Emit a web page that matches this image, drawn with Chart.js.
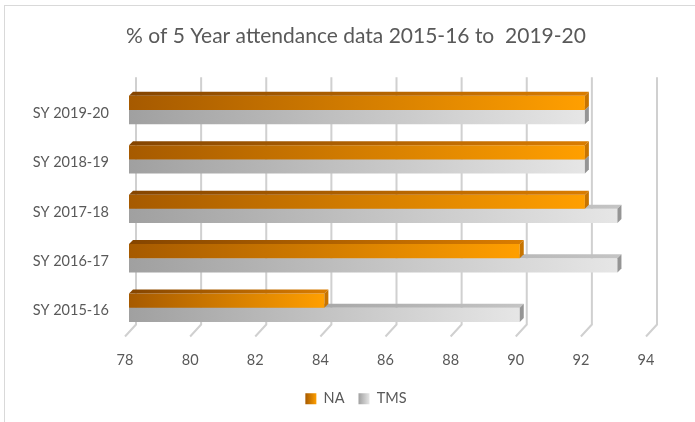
<!DOCTYPE html>
<html>
<head>
<meta charset="utf-8">
<script src="https://cdn.jsdelivr.net/npm/chart.js@4"></script>
<style>
  html,body{margin:0;padding:0;background:#fff;overflow:hidden;}
  #wrap{position:relative;width:695px;height:422px;}
  #frame{position:absolute;left:4px;top:5px;width:720px;height:440px;border:1px solid #d9d9d9;box-sizing:border-box;}
  canvas{position:absolute;left:0;top:0;}
</style>
</head>
<body>
<div id="wrap">
  <div id="frame"></div>
  <canvas id="chart" width="695" height="422"></canvas>
</div>
<script>
// data
const years = ['SY 2015-16','SY 2016-17','SY 2017-18','SY 2018-19','SY 2019-20'];
const naValues  = [84, 90, 92, 92, 92];
const tmsValues = [90, 93, 93, 92, 92];
const axisMin = 78, axisMax = 94, axisStep = 2;

const textColor = '#595959';
const fontFam = 'Lato, "Liberation Sans", sans-serif';
const depth = 4;

// bar fill: horizontal gradient from bar start to bar end
function barFill(dark, light){
  return (ctx) => {
    const chart = ctx.chart;
    if(!chart.chartArea || ctx.raw === undefined) return light;
    const x0 = chart.chartArea.left;
    const x1 = chart.scales.x.getPixelForValue(ctx.raw);
    const g = chart.ctx.createLinearGradient(x0, 0, x1, 0);
    g.addColorStop(0, dark);
    g.addColorStop(1, light);
    return g;
  };
}

const faces = [
  {topDark:'#854500', topLight:'#d97c00', side:'#c77400'},   // NA
  {topDark:'#8c8c8c', topLight:'#c4c4c4', side:'#959595'}    // TMS
];

// back wall grid lines with slanted floor ticks
const wallGrid = {
  id:'wallGrid',
  beforeDatasetsDraw(chart){
    const {ctx, chartArea, scales} = chart;
    ctx.save();
    ctx.strokeStyle = '#d0d0d0';
    ctx.lineWidth = 2;
    for(let v = axisMin; v <= axisMax; v += axisStep){
      const px = scales.x.getPixelForValue(v);
      ctx.beginPath();
      ctx.moveTo(px + 7, chartArea.top - 8);
      ctx.lineTo(px + 7, chartArea.bottom - 8);
      ctx.lineTo(px - 4, chartArea.bottom + 4);
      ctx.stroke();
    }
    ctx.restore();
  }
};

// top and side faces for each bar, drawn right after its dataset
const barFaces = {
  id:'barFaces',
  afterDatasetDraw(chart, args){
    const meta = args.meta;
    const f = faces[meta.index];
    const ctx = chart.ctx;
    ctx.save();
    meta.data.forEach(el => {
      const p = el.getProps(['x','y','base','height'], true);
      const base = Math.max(p.base, chart.chartArea.left);
      const top = p.y - p.height/2, bottom = p.y + p.height/2;
      const g = ctx.createLinearGradient(base, 0, p.x, 0);
      g.addColorStop(0, f.topDark);
      g.addColorStop(1, f.topLight);
      ctx.fillStyle = g;
      ctx.beginPath();
      ctx.moveTo(base, top);
      ctx.lineTo(base + depth, top - depth);
      ctx.lineTo(p.x + depth, top - depth);
      ctx.lineTo(p.x, top);
      ctx.closePath();
      ctx.fill();
      ctx.fillStyle = f.side;
      ctx.beginPath();
      ctx.moveTo(p.x, top);
      ctx.lineTo(p.x + depth, top - depth);
      ctx.lineTo(p.x + depth, bottom - depth);
      ctx.lineTo(p.x, bottom);
      ctx.closePath();
      ctx.fill();
    });
    ctx.restore();
  }
};

// gradient swatches in the legend
const legendSwatch = {
  id:'legendSwatch',
  afterDraw(chart){
    const lg = chart.legend;
    if(!lg || !lg.legendHitBoxes) return;
    const ctx = chart.ctx;
    const cols = [['#a65a00','#ff9f00'],['#a0a0a0','#e6e6e6']];
    lg.legendHitBoxes.forEach((hb, i) => {
      const w = lg.options.labels.boxWidth, h = lg.options.labels.boxHeight;
      const y = hb.top + (hb.height - h)/2;
      const g = ctx.createLinearGradient(hb.left, 0, hb.left + w, 0);
      g.addColorStop(0, cols[i][0]);
      g.addColorStop(1, cols[i][1]);
      ctx.fillStyle = g;
      ctx.fillRect(hb.left, y, w, h);
    });
  }
};

new Chart(document.getElementById('chart'), {
  type:'bar',
  data:{
    labels: years,
    datasets:[
      {label:'NA', data:naValues, backgroundColor:barFill('#a65a00','#ff9f00'), borderWidth:0,
       categoryPercentage:0.574, barPercentage:1},
      {label:'TMS', data:tmsValues, backgroundColor:barFill('#a0a0a0','#e6e6e6'), borderWidth:0,
       categoryPercentage:0.574, barPercentage:1}
    ]
  },
  options:{
    indexAxis:'y',
    responsive:false,
    animation:false,
    // the frame runs past the right edge, so title and legend centre a little right of the canvas middle
    layout:{padding:{left:0, right:-17, top:0, bottom:6}},
    scales:{
      x:{
        min:axisMin, max:axisMax,
        ticks:{stepSize:axisStep, color:textColor, font:{family:fontFam, size:14.5}, padding:19, labelOffset:-4},
        grid:{display:false, drawTicks:false},
        border:{display:false},
        afterFit(s){ s.height = 45; }
      },
      y:{
        reverse:true,
        ticks:{color:textColor, font:{family:fontFam, size:14.5}, padding:20, labelOffset:3},
        grid:{display:false, drawTicks:false},
        border:{display:false},
        afterFit(s){ s.width = 129; }
      },
      yRight:{
        type:'category', position:'right',
        ticks:{display:false},
        grid:{display:false, drawTicks:false},
        border:{display:false},
        afterFit(s){ s.width = 62; }
      }
    },
    plugins:{
      title:{display:true, text:'% of 5 Year attendance data 2015-16 to  2019-20', color:textColor,
             font:{family:fontFam, size:21, weight:'normal'}, padding:{top:24, bottom:36}},
      legend:{position:'bottom',
              labels:{color:'rgba(0,0,0,0)', boxWidth:11, boxHeight:11, padding:14,
                      font:{family:fontFam, size:14.5},
                      generateLabels(chart){
                        return chart.data.datasets.map((d,i)=>({text:d.label, fillStyle:'#fff', strokeStyle:'#fff', lineWidth:0, datasetIndex:i, fontColor:textColor}));
                      }}},
      tooltip:{enabled:false}
    }
  },
  plugins:[wallGrid, barFaces, legendSwatch]
});
</script>
</body>
</html>
